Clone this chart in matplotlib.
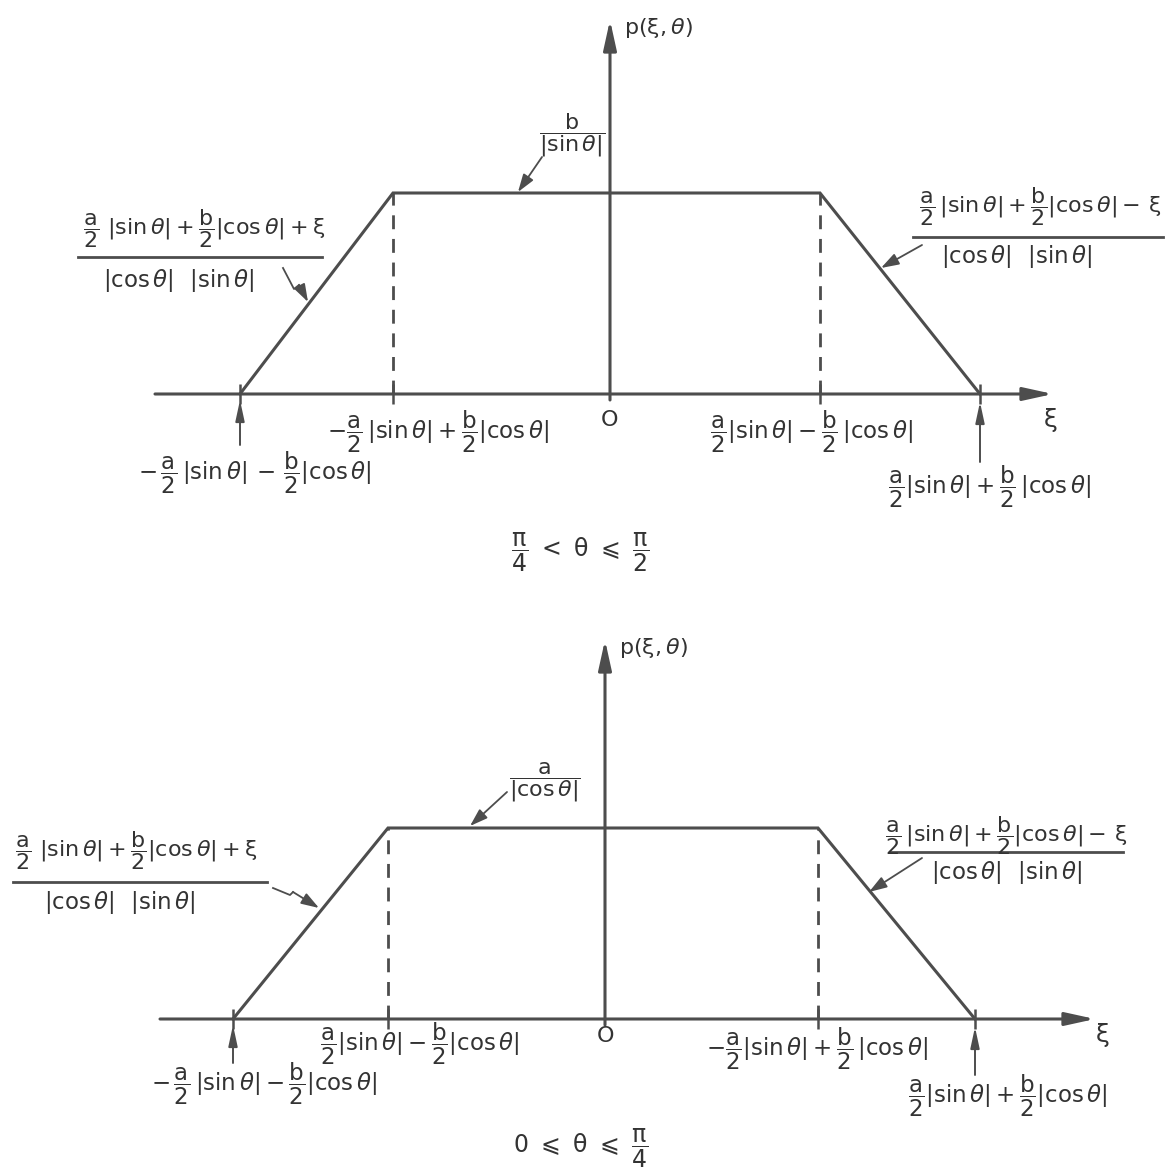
import matplotlib
matplotlib.use("Agg")
import matplotlib.pyplot as plt

plt.rcParams['mathtext.fontset'] = 'dejavusans'
plt.rcParams['mathtext.default'] = 'regular'

INK = '#4d4d4d'
TXT = '#333333'

# breakpoints of the projection p(xi, theta) along the xi axis (1 unit = 100 px)
upper_xi = [-3.70, -2.17, 2.10, 3.70]
upper_p = [0.0, 2.01, 2.01, 0.0]
lower_xi = [-3.72, -2.17, 2.13, 3.70]
lower_p = [0.0, 1.91, 1.91, 0.0]

upper_title = r'$\dfrac{\pi}{4}\ <\ \theta\ \leqslant\ \dfrac{\pi}{2}$'
lower_title = r'$0\ \leqslant\ \theta\ \leqslant\ \dfrac{\pi}{4}$'

TH = r'\mathit{\theta}'
A2, B2 = r'\dfrac{a}{2}', r'\dfrac{b}{2}'
SIN, COS = r'|\sin' + TH + '|', r'|\cos' + TH + '|'

upper_ticks = [
    '$-' + A2 + r'\,' + SIN + '+' + B2 + COS + '$',
    '$' + A2 + SIN + '-' + B2 + r'\,' + COS + '$',
    '$-\\,' + A2 + r'\,' + SIN + r'\,-\,' + B2 + COS + '$',
    '$' + A2 + SIN + '+' + B2 + r'\,' + COS + '$',
]
lower_ticks = [
    '$' + A2 + SIN + '-' + B2 + COS + '$',
    '$-' + A2 + SIN + '+' + B2 + r'\,' + COS + '$',
    '$-\\,' + A2 + r'\,' + SIN + '-' + B2 + COS + '$',
    '$' + A2 + SIN + '+' + B2 + COS + '$',
]
left_num = '$' + A2 + r'\ ' + SIN + '+' + B2 + COS + r'+\xi$'
right_num = '$' + A2 + r'\,' + SIN + '+' + B2 + COS + r'-\,\xi$'
slope_den = '$' + COS + r'\ \ ' + SIN + '$'
upper_top = r'$\dfrac{b}{|\sin' + TH + '|}$'
lower_top = r'$\dfrac{a}{|\cos' + TH + '|}$'


def arrow(ax, tail, tip, lw=1.4, hl=0.6, hw=0.18, ms=18):
    ax.annotate('', xy=tip, xytext=tail,
                arrowprops=dict(arrowstyle='-|>,head_length=%s,head_width=%s' % (hl, hw),
                                color=INK, lw=lw, mutation_scale=ms,
                                shrinkA=0, shrinkB=0))


def draw_panel(ax, xi, p, xlim, ylim, axis_ends, ticks, tick_pos,
               top_label, top_pos, top_leader, left_frac, right_frac,
               title, title_pos, xi_pos, below_arrows):
    ax.set_xlim(*xlim)
    ax.set_ylim(*ylim)
    ax.axis('off')

    # coordinate axes
    arrow(ax, (axis_ends[0], 0), (axis_ends[1], 0), lw=2.2, hl=1.0, hw=0.22)
    arrow(ax, (0, -0.06), (0, axis_ends[2]), lw=2.2, hl=1.0, hw=0.22)

    # the trapezoid
    ax.plot(xi, p, color=INK, lw=2.2, solid_joinstyle='miter')
    for x, h in zip(xi[1:3], p[1:3]):
        ax.plot([x, x], [0, h], color=INK, lw=2.0, ls=(0, (5, 3.5)))
    ax.vlines(xi, -0.10, 0.10, color=INK, lw=1.8)

    for (x, y0, y1) in below_arrows:
        arrow(ax, (x, y0), (x, y1), lw=1.4, hl=0.7, hw=0.15)

    fs = 16.5
    for s, (x, y) in zip(ticks, tick_pos):
        ax.text(x, y, s, ha='center', va='center', fontsize=fs, color=TXT)
    ax.text(0, tick_pos[4][1], 'O', ha='center', va='center', fontsize=16, color=TXT)
    ax.text(xi_pos[0], xi_pos[1], r'$\xi$', ha='center', va='center', fontsize=18, color=TXT)
    ax.text(0.14, axis_ends[2] - 0.08, r'$p(\xi,' + TH + ')$', ha='left', va='center',
            fontsize=16, color=TXT)

    ax.text(top_pos[0], top_pos[1], top_label, ha='center', va='center', fontsize=16, color=TXT)
    arrow(ax, top_leader[0], top_leader[1], lw=1.3, hl=0.6, hw=0.2)

    for num, num_pos, line, den_pos, leader in (left_frac, right_frac):
        ax.text(num_pos[0], num_pos[1], num, ha='center', va='center', fontsize=16, color=TXT)
        ax.plot(line[:2], [line[2], line[2]], color=INK, lw=2.0)
        ax.text(den_pos[0], den_pos[1], slope_den, ha='center', va='center', fontsize=16.5, color=TXT)
        xs = [pt[0] for pt in leader]
        ys = [pt[1] for pt in leader]
        ax.plot(xs[:-1], ys[:-1], color=INK, lw=1.3)
        arrow(ax, leader[-2], leader[-1], lw=1.3, hl=0.6, hw=0.2)

    ax.text(title_pos[0], title_pos[1], title, ha='center', va='center', fontsize=17, color=TXT)


fig = plt.figure(figsize=(11.67, 11.72), dpi=100)
fig.patch.set_facecolor('white')

ax1 = fig.add_axes([0, 585 / 1172, 1, 587 / 1172])
draw_panel(
    ax1, upper_xi, upper_p,
    xlim=(-6.10, 5.57), ylim=(-1.93, 3.94),
    axis_ends=(-4.55, 4.43, 3.74),
    ticks=upper_ticks,
    tick_pos=[(-1.72, -0.38), (2.02, -0.38), (-3.55, -0.79), (3.80, -0.93), (0, -0.26)],
    top_label=upper_top, top_pos=(-0.38, 2.59),
    top_leader=((-0.68, 2.37), (-0.92, 2.02)),
    left_frac=(left_num, (-4.06, 1.65), (-5.32, -2.88, 1.37), (-4.31, 1.14),
               [(-3.27, 1.26), (-3.16, 1.05), (-3.11, 1.09), (-3.02, 0.92)]),
    right_frac=(right_num, (4.30, 1.87), (3.03, 5.53, 1.57), (4.07, 1.38),
                [(3.12, 1.49), (2.71, 1.26)]),
    title=upper_title, title_pos=(-0.30, -1.58),
    xi_pos=(4.40, -0.26),
    below_arrows=[(-3.70, -0.51, -0.06), (3.70, -0.68, -0.08)],
)

ax2 = fig.add_axes([0, 0, 1, 585 / 1172])
draw_panel(
    ax2, lower_xi, lower_p,
    xlim=(-6.05, 5.62), ylim=(-1.53, 4.32),
    axis_ends=(-4.45, 4.90, 3.79),
    ticks=lower_ticks,
    tick_pos=[(-1.85, -0.25), (2.12, -0.30), (-3.41, -0.65), (4.03, -0.77), (0, -0.17)],
    top_label=lower_top, top_pos=(-0.60, 2.37),
    top_leader=((-0.98, 2.27), (-1.35, 1.93)),
    left_frac=(left_num, (-4.69, 1.68), (-5.92, -3.38, 1.37), (-4.85, 1.16),
               [(-3.32, 1.31), (-3.15, 1.24), (-3.12, 1.27), (-2.86, 1.11)]),
    right_frac=(right_num, (4.01, 1.83), (2.85, 5.18, 1.67), (4.02, 1.47),
                [(3.17, 1.61), (2.64, 1.27)]),
    title=lower_title, title_pos=(-0.24, -1.29),
    xi_pos=(4.97, -0.16),
    below_arrows=[(-3.72, -0.44, -0.06), (3.70, -0.56, -0.08)],
)

fig.savefig('out.png', dpi=100, facecolor='white')
